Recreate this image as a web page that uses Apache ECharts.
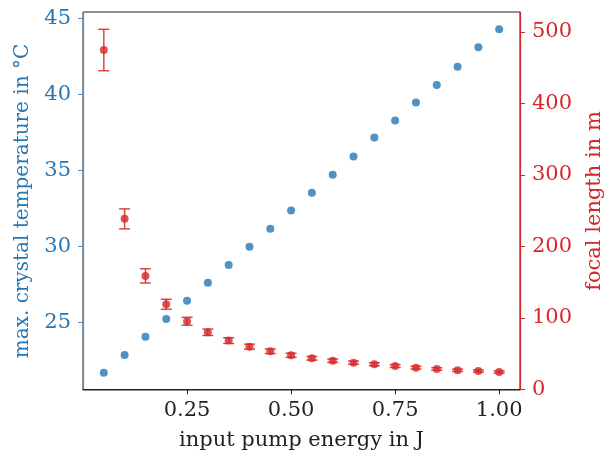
<!DOCTYPE html>
<html>
<head>
<meta charset="utf-8">
<script src="https://cdn.jsdelivr.net/npm/echarts@6/dist/echarts.min.js"></script>
<style>
  html, body { margin: 0; padding: 0; background: #ffffff; }
  #chart { width: 613px; height: 456px; }
</style>
</head>
<body>
<div id="chart"></div>
<script>
// Pump energy steps (J)
var energy = [0.05, 0.10, 0.15, 0.20, 0.25, 0.30, 0.35, 0.40, 0.45, 0.50,
              0.55, 0.60, 0.65, 0.70, 0.75, 0.80, 0.85, 0.90, 0.95, 1.00];
// Maximum crystal temperature (°C)
var temperature = [21.7, 22.86, 24.06, 25.22, 26.42, 27.6, 28.78, 29.98, 31.16, 32.36,
                   33.52, 34.7, 35.9, 37.15, 38.27, 39.45, 40.6, 41.8, 43.09, 44.27];
// Thermal lens focal length (m) and its uncertainty (m)
var focal = [474.8, 238.5, 158.7, 119.0, 95.2, 79.8, 68.1, 59.7, 53.2, 47.6,
             43.4, 40.0, 37.3, 35.0, 32.6, 30.3, 28.4, 26.6, 25.6, 24.2];
var focalErr = [29, 14, 10, 7, 5.5, 4.5, 4, 3.5, 3.2, 2.9,
                2.6, 2.4, 2.3, 2.1, 2.0, 1.9, 1.8, 1.7, 1.6, 1.5];
// Tick positions
var xTicks = [0.25, 0.50, 0.75, 1.00];
var tempTicks = [25, 30, 35, 40, 45];
var focalTicks = [0, 100, 200, 300, 400, 500];

var BLUE = '#2677b4';
var BLUE_AXIS = '#5a8fbd';
var RED = '#d62728';
var FONT = 'DejaVu Serif';

var tempPoints = energy.map(function (e, i) { return [e, temperature[i]]; });
var focalPoints = energy.map(function (e, i) { return [e, focal[i]]; });
var focalBars = energy.map(function (e, i) {
  return [e, focal[i] - focalErr[i], focal[i] + focalErr[i]];
});

var chart = echarts.init(document.getElementById('chart'), null, { renderer: 'canvas' });

chart.setOption({
  backgroundColor: '#ffffff',
  animation: false,
  grid: {
    left: 83, right: 84, top: 12, bottom: 66,
    show: true, borderColor: '#222222', borderWidth: 1, backgroundColor: 'transparent'
  },
  xAxis: {
    type: 'value',
    min: 0, max: 1.05,
    name: 'input pump energy in J',
    nameLocation: 'middle',
    nameGap: 40,
    nameTextStyle: { fontFamily: FONT, fontSize: 21, color: '#222222' },
    axisLine: { show: true, lineStyle: { color: '#222222', width: 1 } },
    axisTick: { show: true, length: 5, customValues: xTicks, lineStyle: { color: '#222222' } },
    axisLabel: {
      customValues: xTicks, margin: 10,
      fontFamily: FONT, fontSize: 21, color: '#222222',
      formatter: function (v) { return v.toFixed(2); }
    },
    splitLine: { show: false }
  },
  yAxis: [
    {
      type: 'value',
      position: 'left',
      min: 20.56, max: 45.4,
      name: 'max. crystal temperature in °C',
      nameLocation: 'middle',
      nameRotate: 90,
      nameGap: 50,
      nameTextStyle: { fontFamily: FONT, fontSize: 20, color: BLUE },
      axisLine: { show: true, lineStyle: { color: BLUE_AXIS, width: 1.2 } },
      axisTick: { show: true, length: 5, customValues: tempTicks, lineStyle: { color: BLUE_AXIS } },
      axisLabel: {
        customValues: tempTicks, margin: 12,
        fontFamily: FONT, fontSize: 21, color: BLUE
      },
      splitLine: { show: false }
    },
    {
      type: 'value',
      position: 'right',
      min: -1, max: 528,
      name: 'focal length in m',
      nameLocation: 'middle',
      nameRotate: 90,
      nameGap: 64,
      nameTextStyle: { fontFamily: FONT, fontSize: 21, color: RED },
      axisLine: { show: true, lineStyle: { color: RED, width: 1.2 } },
      axisTick: { show: true, length: 5, customValues: focalTicks, lineStyle: { color: RED } },
      axisLabel: {
        customValues: focalTicks, margin: 12,
        fontFamily: FONT, fontSize: 21, color: RED
      },
      splitLine: { show: false }
    }
  ],
  series: [
    {
      name: 'temperature',
      type: 'scatter',
      yAxisIndex: 0,
      data: tempPoints,
      symbol: 'circle',
      symbolSize: 8,
      itemStyle: { color: BLUE }
    },
    {
      name: 'focal error',
      type: 'custom',
      yAxisIndex: 1,
      data: focalBars,
      encode: { x: 0, y: [1, 2] },
      renderItem: function (params, api) {
        var x = api.value(0);
        var pLo = api.coord([x, api.value(1)]);
        var pHi = api.coord([x, api.value(2)]);
        var w = 5.5;
        var style = { stroke: RED, lineWidth: 1.5, opacity: 0.85 };
        return {
          type: 'group',
          children: [
            { type: 'line', shape: { x1: pHi[0], y1: pHi[1], x2: pLo[0], y2: pLo[1] }, style: style },
            { type: 'line', shape: { x1: pHi[0] - w, y1: pHi[1], x2: pHi[0] + w, y2: pHi[1] }, style: style },
            { type: 'line', shape: { x1: pLo[0] - w, y1: pLo[1], x2: pLo[0] + w, y2: pLo[1] }, style: style }
          ]
        };
      },
      z: 3
    },
    {
      name: 'focal length',
      type: 'scatter',
      yAxisIndex: 1,
      data: focalPoints,
      symbol: 'circle',
      symbolSize: 8,
      itemStyle: { color: RED },
      z: 4
    }
  ]
});
</script>
</body>
</html>
